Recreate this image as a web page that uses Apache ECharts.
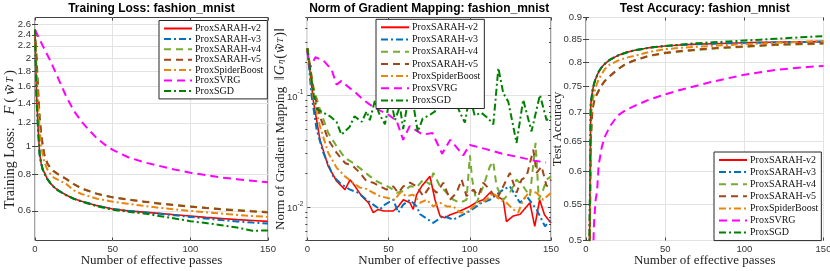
<!DOCTYPE html>
<html><head><meta charset="utf-8">
<script src="https://cdn.jsdelivr.net/npm/echarts@6/dist/echarts.min.js"></script>
<style>html,body{margin:0;padding:0;background:#fff}#c{width:830px;height:271px}</style>
</head><body><div id="c"></div>
<script>
// ---------- DATA ----------
const seriesNames = ['ProxSARAH-v2','ProxSARAH-v3','ProxSARAH-v4','ProxSARAH-v5','ProxSpiderBoost','ProxSVRG','ProxSGD'];
const titles = ['Training Loss: fashion_mnist','Norm of Gradient Mapping: fashion_mnist','Test Accuracy: fashion_mnist'];
const xTicks = [0,50,100,150];
const lossTicks = [0.6,0.8,1,1.2,1.4,1.6,1.8,2,2.2,2.4,2.6];
const gradTicks = [0.01,0.1];
const gradMinor = [0.005,0.006,0.007,0.008,0.009,0.02,0.03,0.04,0.05,0.06,0.07,0.08,0.09,0.2,0.3,0.4,0.5];
const accTicks = [0.5,0.55,0.6,0.65,0.7,0.75,0.8,0.85,0.9];

// Panel 1: training loss
const lossX = [0,1,2,3,4,5,6,8,10,12,15,20,25,30,40,50,60,70,80,90,100,110,120,130,140,150];
const lossV2 = [2.5,1.5,1.15,0.94,0.87,0.83,0.81,0.77,0.745,0.725,0.705,0.68,0.66,0.647,0.625,0.609,0.6,0.594,0.588,0.582,0.576,0.57,0.565,0.56,0.556,0.552];
const lossV3 = [2.5,1.5,1.15,0.94,0.87,0.83,0.81,0.77,0.745,0.725,0.705,0.68,0.66,0.647,0.625,0.609,0.6,0.593,0.586,0.579,0.572,0.565,0.558,0.552,0.547,0.543];
const lossV4 = [2.5,2.0,1.55,1.25,1.1,1.0,0.935,0.87,0.84,0.82,0.8,0.772,0.74,0.715,0.686,0.668,0.656,0.646,0.637,0.629,0.622,0.615,0.609,0.604,0.599,0.595];
const lossV5 = [2.5,2.0,1.55,1.25,1.1,1.0,0.935,0.87,0.84,0.82,0.8,0.772,0.74,0.715,0.686,0.667,0.655,0.645,0.635,0.627,0.62,0.613,0.607,0.602,0.597,0.592];
const lossSpider = [2.5,1.8,1.4,1.13,1.0,0.93,0.88,0.83,0.8,0.78,0.765,0.742,0.705,0.685,0.66,0.645,0.634,0.624,0.614,0.607,0.6,0.593,0.587,0.581,0.576,0.572];
const lossSGD = [2.5,1.45,1.12,0.93,0.87,0.83,0.805,0.77,0.745,0.725,0.703,0.678,0.66,0.645,0.622,0.605,0.596,0.588,0.576,0.565,0.553,0.545,0.536,0.526,0.513,0.514];
const lossSvrgX = [0,5,10,15,20,25,30,35,40,45,50,60,70,80,90,100,110,120,130,140,150];
const lossSVRG = [2.5,2.2,1.95,1.7,1.48,1.32,1.21,1.13,1.06,1.01,0.97,0.915,0.88,0.855,0.83,0.81,0.795,0.78,0.77,0.76,0.752];

// Panel 2: norm of gradient mapping
const gradV2X = [0,3.7,7.8,12.9,18.1,23.2,26.3,29.4,33.5,37.6,40.6,43.7,47,52.9,56,59.1,63.2,65.2,67.3,70.4,75.5,78.6,81.7,84.7,88,91.9,96,100,104,108.3,112.4,116.5,120.6,122.6,126.8,131,137,140,143,146,148.3,150];
const gradV2 = [0.265,0.09,0.04,0.0231,0.017,0.0143,0.0175,0.0153,0.0125,0.0109,0.0089,0.0095,0.0092,0.0092,0.0101,0.0116,0.0109,0.0095,0.0129,0.0153,0.0188,0.0116,0.0083,0.008,0.0085,0.0089,0.0095,0.0101,0.011,0.0116,0.0134,0.0125,0.0116,0.0074,0.0083,0.0086,0.0109,0.0067,0.0116,0.0085,0.0077,0.0072];
const gradV3X = [0,2.7,5.8,9.9,16,21.1,26.3,31.4,36.5,40.6,44.7,47.8,52.9,56,59.1,63.2,67.3,69.4,77.5,83.7,89.9,100.1,107.3,112.4,120.6,124.7,130.9,135,141.1,146.3,150];
const gradV3 = [0.265,0.098,0.049,0.0305,0.0188,0.0159,0.0143,0.0134,0.0116,0.0105,0.0095,0.0105,0.0116,0.0089,0.0105,0.0116,0.0101,0.0086,0.0072,0.0083,0.0077,0.0092,0.0109,0.0116,0.0143,0.0153,0.0109,0.0125,0.0095,0.0067,0.0077];
const gradV4X = [0,3.7,7.8,12.9,18.1,23.2,28.3,33.5,38.6,42.7,46.8,50.9,55,59.1,63.2,67.3,71.4,75.5,77.6,81.7,85.8,89.9,94,98,100.1,101.5,104.2,108.3,112.4,114.4,116.5,120.6,124.7,128.8,132.9,137,140.5,142.5,145,147.3,150];
const gradV4 = [0.265,0.12,0.0745,0.046,0.0349,0.0275,0.0248,0.0216,0.0188,0.017,0.0159,0.0149,0.0134,0.0138,0.0153,0.015,0.0176,0.0159,0.0202,0.0153,0.0134,0.0116,0.0109,0.0116,0.029,0.0176,0.0109,0.0153,0.0231,0.0255,0.0153,0.0116,0.0134,0.0176,0.0153,0.0125,0.0375,0.0116,0.014,0.0176,0.0188];
const gradV5X = [0,3.7,7.8,12.9,18.1,23.2,28.3,32.4,36.5,40.6,44.7,48.8,52.9,56,59.1,63.2,67.3,71.4,75.5,79.6,83.7,87.8,91.9,95,98,102.2,105.2,108.3,112.4,116.5,120.6,124.7,128.8,131.9,135,139.1,141.1,144.2,147.3,150];
const gradV5 = [0.265,0.112,0.0649,0.04,0.0305,0.0248,0.0231,0.0202,0.017,0.0165,0.0153,0.0143,0.0153,0.0134,0.0153,0.0165,0.0153,0.0125,0.0153,0.0134,0.0165,0.0116,0.0134,0.0176,0.0125,0.0143,0.0125,0.0165,0.0143,0.0116,0.0153,0.0202,0.0134,0.0176,0.0188,0.0326,0.0202,0.0231,0.0153,0.0176];
const gradSpiderX = [0,3.7,7.8,12.9,18.1,23.2,28.3,32.4,36.5,40.6,44.7,48.8,53.9,57,61.1,65.2,69.4,73.5,77.6,81.7,85.8,89.9,94,98,102.2,106.3,110.3,114.4,118.5,122.6,126.8,129.8,132.9,137,141.1,145.2,150];
const gradSpider = [0.265,0.098,0.0528,0.0305,0.0224,0.0188,0.0164,0.0149,0.0145,0.0134,0.0125,0.0121,0.0116,0.0134,0.0125,0.0129,0.0109,0.0116,0.0101,0.0109,0.0101,0.0101,0.0089,0.0089,0.0101,0.0109,0.0116,0.0134,0.0116,0.0109,0.0095,0.0089,0.0116,0.0138,0.0134,0.0116,0.0134];
const gradSvrgX = [0,1.5,5,10,15,18,21,25,30,35,40,45,50,55,59,63,71,77,83,88,96,100,110,120,130,140,147];
const gradSVRG = [0.25,0.175,0.22,0.205,0.17,0.125,0.135,0.12,0.105,0.09,0.08,0.073,0.067,0.059,0.04,0.053,0.0445,0.046,0.03,0.04,0.029,0.036,0.033,0.03,0.028,0.026,0.025];
const gradSgdX = [0,2,4,6,10,14,18,21,26,29,33.5,36.5,38.5,41.6,44,47.8,51,54,57,59,62,65,68,71,75.5,78.6,81.7,84.7,87.8,91,94,97,100,103,107,111,114.5,117.6,120.6,123.7,128.8,132.9,138,143.2,147.3,150];
const gradSGD = [0.265,0.16,0.1,0.075,0.07,0.065,0.058,0.0445,0.052,0.065,0.058,0.072,0.06,0.09,0.07,0.055,0.097,0.06,0.08,0.05,0.09,0.088,0.047,0.062,0.067,0.072,0.098,0.085,0.11,0.09,0.07,0.057,0.1,0.066,0.07,0.063,0.055,0.176,0.105,0.088,0.0375,0.0915,0.0476,0.101,0.06,0.065];

// Panel 3: test accuracy
const accX = [0,1,2,3,4,5,6,8,10,12,15,20,25,30,40,50,60,70,80,90,100,110,120,130,140,150];
const accV2 = [0.1,0.25,0.45,0.715,0.74,0.755,0.765,0.78,0.79,0.797,0.805,0.814,0.82,0.825,0.831,0.835,0.837,0.839,0.84,0.841,0.842,0.843,0.843,0.844,0.844,0.845];
const accV3 = [0.1,0.25,0.45,0.715,0.74,0.755,0.765,0.78,0.79,0.797,0.805,0.814,0.82,0.825,0.831,0.835,0.837,0.839,0.84,0.841,0.842,0.842,0.843,0.843,0.844,0.844];
const accV4 = [0.1,0.25,0.42,0.65,0.705,0.72,0.73,0.742,0.753,0.762,0.771,0.785,0.796,0.803,0.813,0.819,0.823,0.826,0.829,0.831,0.833,0.835,0.837,0.838,0.839,0.84];
const accV5 = [0.1,0.25,0.42,0.65,0.705,0.72,0.73,0.742,0.753,0.762,0.771,0.785,0.796,0.803,0.814,0.82,0.824,0.827,0.83,0.832,0.834,0.836,0.838,0.839,0.84,0.841];
const accSpider = [0.1,0.25,0.44,0.69,0.72,0.735,0.748,0.765,0.776,0.786,0.795,0.803,0.809,0.813,0.822,0.828,0.831,0.833,0.835,0.837,0.839,0.84,0.842,0.843,0.845,0.846];
const accSGD = [0.1,0.25,0.45,0.715,0.74,0.755,0.765,0.78,0.79,0.797,0.805,0.814,0.82,0.825,0.831,0.835,0.838,0.841,0.843,0.845,0.847,0.849,0.851,0.853,0.855,0.857];
const accSvrgX = [0,2,4,5,6,7,8,10,12,15,20,25,30,40,50,60,70,80,90,100,110,120,130,140,150];
const accSVRG = [0.1,0.2,0.45,0.52,0.555,0.57,0.61,0.64,0.658,0.675,0.695,0.705,0.712,0.725,0.735,0.744,0.752,0.76,0.767,0.774,0.779,0.784,0.787,0.79,0.792];

// ---------- STYLE ----------
const SERIF = '"Liberation Serif","DejaVu Serif",serif';
const SANS = '"Liberation Sans","DejaVu Sans",Arial,sans-serif';
const DD = [7,3,2,3];
const DS = [7,5];
const lineStyles = [
  {color:'#FF0000', type:'solid', width:1.6},
  {color:'#0072BD', type:DD, width:2},
  {color:'#77AC30', type:DS, width:2},
  {color:'#A2451A', type:DS, width:2},
  {color:'#E8870E', type:DD, width:2},
  {color:'#FF00FF', type:[8,5], width:2},
  {color:'#008000', type:DD, width:2}
];
const grids = [
  {left:35, top:17.5, width:233, height:223},
  {left:307.3, top:17.5, width:243.7, height:223},
  {left:586, top:17.5, width:237.5, height:223}
];
const zip = (xs, ys) => xs.map((x, i) => [x, ys[i]]);
const panelData = [
  [zip(lossX,lossV2),zip(lossX,lossV3),zip(lossX,lossV4),zip(lossX,lossV5),zip(lossX,lossSpider),zip(lossSvrgX,lossSVRG),zip(lossX,lossSGD)],
  [zip(gradV2X,gradV2),zip(gradV3X,gradV3),zip(gradV4X,gradV4),zip(gradV5X,gradV5),zip(gradSpiderX,gradSpider),zip(gradSvrgX,gradSVRG),zip(gradSgdX,gradSGD)],
  [zip(accX,accV2),zip(accX,accV3),zip(accX,accV4),zip(accX,accV5),zip(accX,accSpider),zip(accSvrgX,accSVRG),zip(accX,accSGD)]
];

const gridLine = {show:true, lineStyle:{color:'#e3e3e3', width:1}};
const tickStyle = {show:true, inside:true, length:3, lineStyle:{color:'#444'}};
const labelStyle = {color:'#333', fontSize:9.5, fontFamily:SANS};

const xAxes = [], yAxes = [];
grids.forEach((g, i) => {
  xAxes.push({type:'value', gridIndex:i, min:0, max:150, interval:50,
    axisLine:{show:false}, axisTick:tickStyle, splitLine:gridLine,
    axisLabel:Object.assign({margin:4}, labelStyle),
    name:'Number of effective passes', nameLocation:'middle', nameGap:14, nameMoveOverlap:false,
    nameTextStyle:{fontFamily:SERIF, fontSize:13, color:'#222'}});
  xAxes.push({type:'value', gridIndex:i, position:'top', min:0, max:150, interval:50,
    axisLine:{show:false}, axisTick:tickStyle, splitLine:{show:false}, axisLabel:{show:false}});
});
const subRich = {
  n:{fontFamily:SERIF, fontSize:13, color:'#222'},
  m:{fontFamily:SERIF, fontSize:14, color:'#222'},
  i:{fontFamily:SERIF, fontSize:14, fontStyle:'italic', color:'#222', padding:[0,1,0,1]},
  s:{fontFamily:SERIF, fontSize:9, fontStyle:'italic', color:'#222', padding:[0,1,0,0]},
  e:{width:22}
};
const subRich1 = Object.assign({}, subRich, {
  n:{fontFamily:SERIF, fontSize:14, color:'#222'},
  m:{fontFamily:SERIF, fontSize:15, color:'#222', padding:[0,1,0,1]},
  i:{fontFamily:SERIF, fontSize:15, fontStyle:'italic', color:'#222', padding:[0,2,0,2]},
  s:{fontFamily:SERIF, fontSize:10, fontStyle:'italic', color:'#222', padding:[0,1,0,0]},
  e:{width:20}
});
// y axes panel 1
yAxes.push({type:'log', gridIndex:0, min:0.475, max:2.75, logBase:10,
  axisLine:{show:false}, axisTick:Object.assign({customValues:lossTicks}, tickStyle), splitLine:gridLine,
  axisLabel:Object.assign({customValues:lossTicks, margin:4, formatter:v => String(Math.round(v*10)/10)}, labelStyle),
  name:'{n|Training Loss:   }{i|F}{m|(}{i|w\u0303}{s|T}{m|)}{e| }', nameLocation:'middle', nameGap:17, nameMoveOverlap:false,
  nameTextStyle:{rich:subRich1}});
yAxes.push({type:'log', gridIndex:0, position:'right', min:0.475, max:2.75,
  axisLine:{show:false}, axisTick:Object.assign({customValues:lossTicks}, tickStyle), splitLine:{show:false},
  axisLabel:{show:false, customValues:lossTicks}});
// panel 2
yAxes.push({type:'log', gridIndex:1, min:0.005, max:0.5,
  axisLine:{show:false}, axisTick:Object.assign({customValues:gradTicks}, tickStyle), splitLine:gridLine,
  axisLabel:Object.assign({customValues:gradTicks, margin:4,
    formatter:v => '{b|10}{p|' + Math.round(Math.log10(v)) + '}',
    rich:{b:{fontSize:9.5, fontFamily:SANS, color:'#333', verticalAlign:'bottom'},
          p:{fontSize:6.5, fontFamily:SANS, color:'#333', padding:[0,0,6,0], verticalAlign:'bottom'}}}, labelStyle),
  name:'{n|Norm of Gradient Mapping  }{m|\u2016}{i|G}{s|\u03B7}{m|(}{i|w\u0303}{s|T}{m|)\u2016}', nameLocation:'middle', nameGap:20, nameMoveOverlap:false,
  nameTextStyle:{rich:subRich}});
yAxes.push({type:'log', gridIndex:1, min:0.005, max:0.5,
  axisLine:{show:false}, axisTick:{show:true, inside:true, length:2, customValues:gradMinor, lineStyle:{color:'#444'}},
  splitLine:{show:false}, axisLabel:{show:false, customValues:gradMinor}});
yAxes.push({type:'log', gridIndex:1, position:'right', min:0.005, max:0.5,
  axisLine:{show:false}, axisTick:Object.assign({customValues:gradTicks}, tickStyle),
  splitLine:{show:false}, axisLabel:{show:false, customValues:gradTicks}});
yAxes.push({type:'log', gridIndex:1, position:'right', min:0.005, max:0.5,
  axisLine:{show:false}, axisTick:{show:true, inside:true, length:2, customValues:gradMinor, lineStyle:{color:'#444'}},
  splitLine:{show:false}, axisLabel:{show:false, customValues:gradMinor}});
// panel 3
yAxes.push({type:'log', gridIndex:2, min:0.5, max:0.9,
  axisLine:{show:false}, axisTick:Object.assign({customValues:accTicks}, tickStyle), splitLine:gridLine,
  axisLabel:Object.assign({customValues:accTicks, margin:4, formatter:v => String(Math.round(v*100)/100)}, labelStyle),
  name:'Test Accuracy', nameLocation:'middle', nameGap:22, nameMoveOverlap:false,
  nameTextStyle:{fontFamily:SERIF, fontSize:13, color:'#222'}});
yAxes.push({type:'log', gridIndex:2, position:'right', min:0.5, max:0.9,
  axisLine:{show:false}, axisTick:Object.assign({customValues:accTicks}, tickStyle),
  splitLine:{show:false}, axisLabel:{show:false, customValues:accTicks}});

const yIndexForGrid = [0, 2, 6];
const series = [];
panelData.forEach((sets, gi) => {
  sets.forEach((d, si) => {
    series.push({type:'line', name:seriesNames[si], xAxisIndex:gi*2, yAxisIndex:yIndexForGrid[gi],
      data:d, showSymbol:false, symbol:'none', clip:true, lineStyle:lineStyles[si],
      itemStyle:{color:lineStyles[si].color}, emphasis:{disabled:true}, z:2+si*0.01});
  });
});

const legendBase = {orient:'vertical', backgroundColor:'#fff', borderColor:'#262626', borderWidth:1,
  itemWidth:28, itemHeight:10, selectedMode:false, data:seriesNames,
  itemStyle:{opacity:0, borderWidth:0},
  textStyle:{fontFamily:SERIF, fontSize:10, color:'#111', padding:[0,0,0,-2]}};
const legends = [
  Object.assign({}, legendBase, {left:159, top:20.5, itemGap:0.4, padding:[3,4,3,4]}),
  Object.assign({}, legendBase, {left:376, top:19.3, itemGap:2.2, padding:[3,4,3,4]}),
  Object.assign({}, legendBase, {left:714, top:152, itemGap:2.1, padding:[3,3,3,4]})
];

const graphics = titles.map((t, i) => ({type:'text', x: grids[i].left + grids[i].width/2, y: 3, z:10,
  style:{text:t, align:'center', verticalAlign:'top', font:'bold 12px ' + SANS, fill:'#000'}}));

const chart = echarts.init(document.getElementById('c'), null, {renderer:'canvas'});
chart.setOption({
  animation:false,
  backgroundColor:'#fff',
  grid: grids.map(g => Object.assign({show:true, borderColor:'#444', borderWidth:1, backgroundColor:'transparent', containLabel:false, outerBoundsMode:'none'}, g)),
  xAxis:xAxes, yAxis:yAxes, series:series, legend:legends, graphic:graphics
});
</script></body></html>
